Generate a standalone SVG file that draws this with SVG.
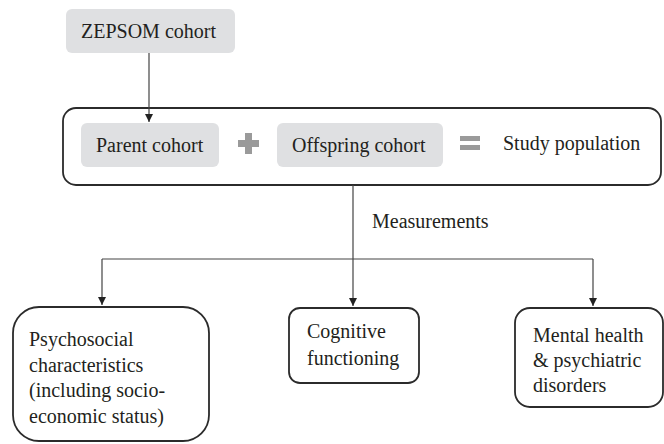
<svg xmlns="http://www.w3.org/2000/svg" width="664" height="444" viewBox="0 0 664 444">
<defs>
<style>
text{font-family:'Liberation Serif','Times New Roman',Times,'DejaVu Serif',serif;font-size:20px;fill:#231f20}
.g{fill:#dfe0e2;stroke:none}
.b{fill:#fff;stroke:#2b2b2b;stroke-width:1.8}
.c{fill:none;stroke:#444;stroke-width:1.2}
</style>
<marker id="ah" viewBox="0 0 10 10" refX="10" refY="5" markerWidth="8" markerHeight="8" markerUnits="userSpaceOnUse" orient="auto"><path d="M0,0 L10,5 L0,10 z" fill="#222"/></marker>
</defs>
<rect width="664" height="444" fill="#fff"/>
<g id="study-population">
<rect class="b" x="63" y="108" width="598" height="77" rx="13"/>
<g id="parent-cohort"><rect class="g" x="81" y="123" width="138" height="44" rx="6"/><text x="96" y="152">Parent cohort</text></g>
<g id="plus"><rect x="238" y="140" width="21" height="7" fill="#9a9a9a"/><rect x="245" y="133" width="7" height="21" fill="#9a9a9a"/></g>
<g id="offspring-cohort"><rect class="g" x="277" y="123" width="166" height="44" rx="6"/><text x="292" y="152">Offspring cohort</text></g>
<g id="equals"><rect x="460" y="136" width="20" height="5" fill="#9a9a9a"/><rect x="460" y="145" width="20" height="5" fill="#9a9a9a"/></g>
<text x="503" y="150">Study population</text>
</g>
<g id="zepsom"><rect class="g" x="66" y="9" width="169" height="44" rx="6"/><text x="81" y="38">ZEPSOM cohort</text></g>
<g id="psychosocial"><rect class="b" x="13" y="307" width="196" height="134" rx="26"/>
<text x="29" y="346">Psychosocial</text><text x="29" y="372">characteristics</text><text x="29" y="397">(including socio-</text><text x="29" y="423">economic status)</text></g>
<g id="cognitive"><rect class="b" x="289" y="308" width="130" height="75" rx="11"/>
<text x="307" y="338">Cognitive</text><text x="307" y="365">functioning</text></g>
<g id="mental-health"><rect class="b" x="515" y="308" width="148" height="99" rx="15"/>
<text x="533" y="342">Mental health</text><text x="533" y="367">&amp; psychiatric</text><text x="533" y="392">disorders</text></g>
<g id="connectors">
<path class="c" d="M149,53 V122" marker-end="url(#ah)"/>
<path class="c" d="M353,185 V259"/>
<path class="c" d="M102,259 H593"/>
<path class="c" d="M102,259 V305" marker-end="url(#ah)"/>
<path class="c" d="M353,259 V306" marker-end="url(#ah)"/>
<path class="c" d="M593,259 V306" marker-end="url(#ah)"/>
<text x="372" y="228">Measurements</text>
</g>
</svg>
